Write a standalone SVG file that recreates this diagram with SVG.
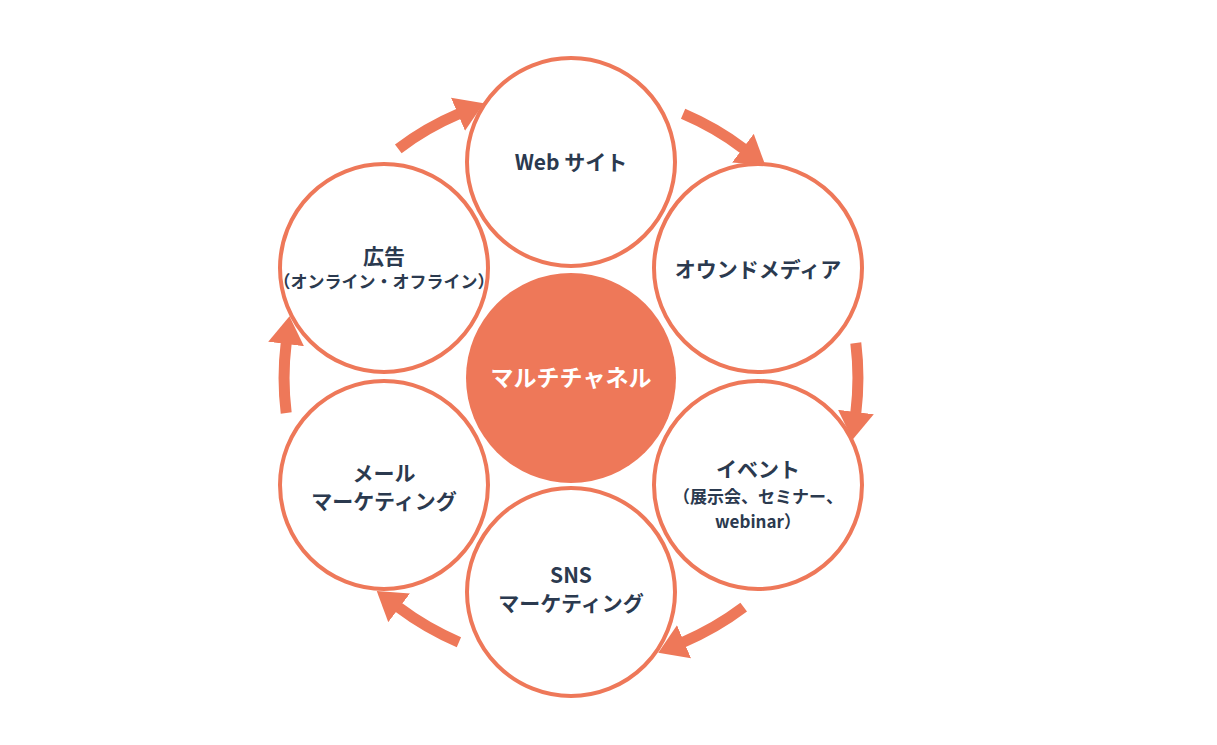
<svg xmlns="http://www.w3.org/2000/svg" width="1217" height="745" viewBox="0 0 1217 745">
<style>
.c{fill:#fff;stroke:#ee7859;stroke-width:4}
.t{font-family:"Noto Sans CJK JP","Noto Sans",sans-serif;font-weight:bold;fill:#2b3a4f;text-anchor:middle;font-size:21px}
.s{font-size:17px}
.a{fill:none;stroke:#ee7859;stroke-width:11;marker-end:url(#ah)}
</style>
<defs><marker id="ah" markerUnits="userSpaceOnUse" markerWidth="30" markerHeight="36" refX="1" refY="18" orient="auto" viewBox="0 0 30 36"><path d="M0,0 L28,18 L0,36 Z" fill="#ee7859"/></marker></defs>
<rect width="1217" height="745" fill="#fff"/>
<g id="connectors">
<path class="a" d="M398.3,148.8 A287,287 0 0 1 458.9,113.8"/>
<path class="a" d="M683.1,113.8 A287,287 0 0 1 743.7,148.8"/>
<path class="a" d="M855.8,343 A287,287 0 0 1 855.8,413"/>
<path class="a" d="M743.7,607.2 A287,287 0 0 1 683.1,642.2"/>
<path class="a" d="M458.9,642.2 A287,287 0 0 1 398.3,607.2"/>
<path class="a" d="M286.2,413 A287,287 0 0 1 286.2,343"/>
</g>
<g id="ad"><circle class="c" cx="384" cy="268" r="104"/><text class="t" x="384" y="264">広告</text><text class="t s" x="384" y="288">（オンライン・オフライン）</text></g>
<g id="web"><circle class="c" cx="571" cy="162" r="104"/><text class="t" x="571" y="170">Web サイト</text></g>
<g id="owned"><circle class="c" cx="758" cy="268" r="104"/><text class="t" x="758" y="277">オウンドメディア</text></g>
<g id="event"><circle class="c" cx="758" cy="485" r="104"/><text class="t" x="758" y="477">イベント</text><text class="t s" x="758" y="503">（展示会、セミナー、</text><text class="t s" x="758" y="528">webinar）</text></g>
<g id="mail"><circle class="c" cx="384" cy="485" r="104"/><text class="t" x="384" y="481">メール</text><text class="t" x="384" y="509">マーケティング</text></g>
<g id="sns"><circle class="c" cx="571" cy="592" r="104"/><text class="t" x="571" y="583">SNS</text><text class="t" x="571" y="611">マーケティング</text></g>
<g id="center"><circle cx="571" cy="378" r="105" fill="#ee7859"/><text class="t" x="571" y="386" style="fill:#fff;font-size:23px">マルチチャネル</text></g>
</svg>
